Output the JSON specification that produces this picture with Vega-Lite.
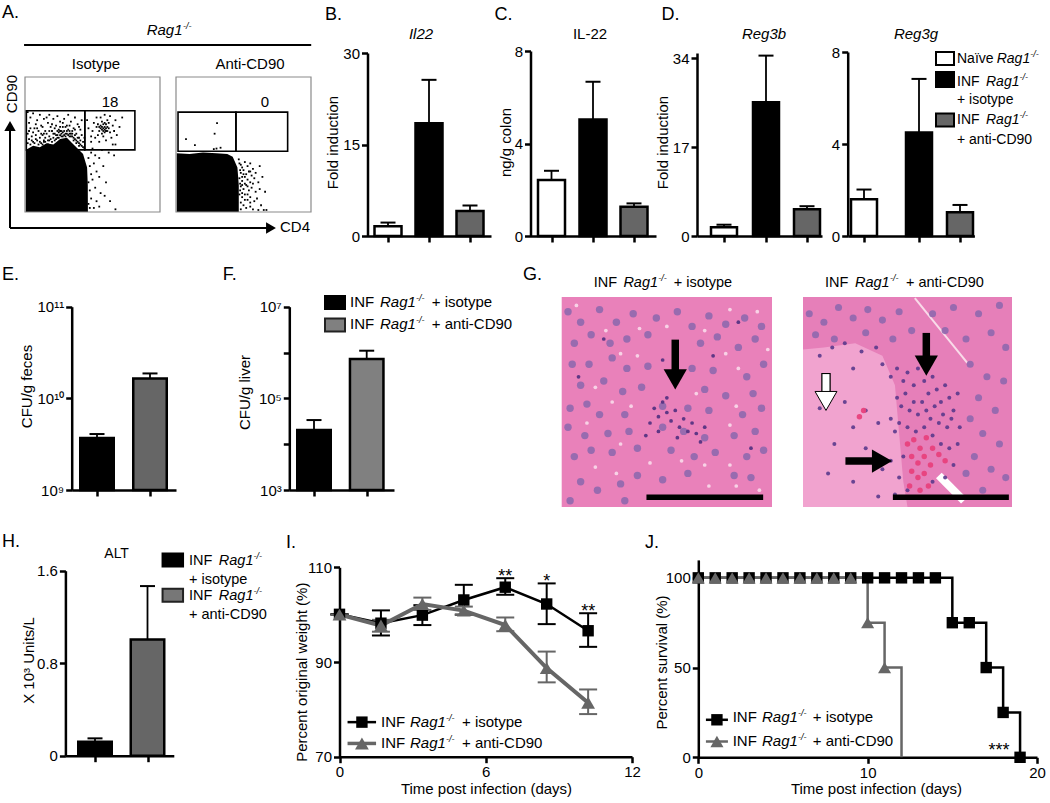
{"$schema":"https://vega.github.io/schema/vega-lite/v6.json","padding":0,"spacing":0,"data":{"values":[{}]},"resolve":{"scale":{"fill":"independent"}},
"config":{"font":"Liberation Sans","view":{"stroke":null},"axis":{"grid":false,"domainColor":"black","domainWidth":2.5,"tickColor":"black","tickWidth":2.5,"tickSize":6,"labelColor":"black","labelFontSize":15,"labelPadding":2,"labelFlush":false,"labelOverlap":false,"titleColor":"black","titleFontSize":15,"titleFontWeight":"normal","titleBaseline":"bottom"},"text":{"color":"black","fontSize":15,"baseline":"alphabetic"}},
"vconcat":[
{"hconcat":[
{"width":168,"height":255,"layer":[
{"data":{"values":[{"x":0.5,"y":46},{"x":6,"y":49},{"x":11,"y":48},{"x":16,"y":51},{"x":21,"y":50},{"x":26,"y":54},{"x":31,"y":55},{"x":35,"y":51},{"x":38,"y":48},{"x":43,"y":43},{"x":46,"y":33},{"x":46.5,"y":20},{"x":46.6,"y":0}]},"mark":{"type":"area","color":"black"},"encoding":{"x":{"field":"x","type":"quantitative","scale":{"domain":[0,100],"range":[25,160]},"axis":null},"y":{"field":"y","type":"quantitative","scale":{"domain":[0,100],"range":[212,77]},"axis":null},"y2":{"datum":0}}},
{"data":{"values":[{"x":2,"y":74},{"x":4,"y":70},{"x":6,"y":73},{"x":3,"y":66},{"x":7,"y":62},{"x":9,"y":68},{"x":11,"y":72},{"x":12,"y":64},{"x":14,"y":69},{"x":15,"y":60},{"x":17,"y":66},{"x":18,"y":72},{"x":19,"y":63},{"x":21,"y":69},{"x":22,"y":58},{"x":23,"y":64},{"x":24,"y":71},{"x":25,"y":61},{"x":26,"y":67},{"x":27,"y":56},{"x":28,"y":63},{"x":29,"y":69},{"x":30,"y":58},{"x":31,"y":64},{"x":32,"y":72},{"x":33,"y":60},{"x":34,"y":67},{"x":35,"y":56},{"x":36,"y":62},{"x":37,"y":70},{"x":38,"y":58},{"x":39,"y":65},{"x":40,"y":55},{"x":41,"y":61},{"x":42,"y":68},{"x":43,"y":52},{"x":42,"y":57},{"x":2,"y":58},{"x":3,"y":54},{"x":5,"y":56},{"x":6,"y":52},{"x":8,"y":57},{"x":9,"y":53},{"x":10,"y":60},{"x":11,"y":55},{"x":12,"y":51},{"x":13,"y":57},{"x":14,"y":53},{"x":15,"y":55},{"x":16,"y":58},{"x":17,"y":53},{"x":18,"y":56},{"x":19,"y":54},{"x":20,"y":60},{"x":21,"y":55},{"x":22,"y":53},{"x":23,"y":57},{"x":24,"y":55},{"x":25,"y":59},{"x":26,"y":57},{"x":27,"y":60},{"x":28,"y":56},{"x":29,"y":60},{"x":30,"y":63},{"x":31,"y":58},{"x":32,"y":61},{"x":33,"y":56},{"x":34,"y":58},{"x":35,"y":60},{"x":36,"y":55},{"x":37,"y":57},{"x":38,"y":53},{"x":39,"y":55},{"x":40,"y":51},{"x":41,"y":53},{"x":42,"y":49},{"x":44,"y":47},{"x":44,"y":55},{"x":4,"y":62},{"x":8,"y":65},{"x":13,"y":63},{"x":16,"y":70},{"x":20,"y":65},{"x":24,"y":60},{"x":28,"y":66},{"x":33,"y":64},{"x":37,"y":61},{"x":40,"y":63},
{"x":2,"y":51},{"x":4,"y":50},{"x":5,"y":53},{"x":7,"y":51},{"x":8,"y":54},{"x":10,"y":50},{"x":11,"y":52},{"x":13,"y":50},{"x":14,"y":52},{"x":15,"y":52},{"x":17,"y":50},{"x":18,"y":53},{"x":20,"y":52},{"x":21,"y":58},{"x":23,"y":54},{"x":24,"y":57},{"x":25,"y":55},{"x":26,"y":60},{"x":27,"y":58},{"x":28,"y":59},{"x":29,"y":57},{"x":30,"y":56},{"x":31,"y":60},{"x":32,"y":57},{"x":33,"y":58},{"x":34,"y":56},{"x":35,"y":58},{"x":36,"y":53},{"x":37,"y":54},{"x":38,"y":51},{"x":39,"y":52},{"x":40,"y":49},{"x":41,"y":50},{"x":43,"y":48},{"x":3,"y":60},{"x":6,"y":59},{"x":9,"y":62},{"x":12,"y":58},{"x":14,"y":58},{"x":18,"y":60},{"x":22,"y":62},{"x":26,"y":63},
{"x":58,"y":62},{"x":56,"y":64},{"x":60,"y":65},{"x":55,"y":60},{"x":59,"y":59},{"x":62,"y":62},{"x":57,"y":67},{"x":53,"y":63},{"x":61,"y":68},{"x":63,"y":59},{"x":54,"y":57},{"x":58,"y":56},{"x":51,"y":66},{"x":50,"y":60},{"x":65,"y":64},{"x":66,"y":60},{"x":52,"y":55},{"x":60,"y":53},{"x":56,"y":70},{"x":63,"y":71},{"x":67,"y":68},{"x":49,"y":56},{"x":47,"y":62},{"x":55,"y":52},{"x":64,"y":55},{"x":68,"y":57},{"x":59,"y":72},{"x":70,"y":63},{"x":46,"y":68},{"x":53,"y":70},{"x":57,"y":61},{"x":59,"y":63},{"x":61,"y":60},{"x":56,"y":62},{"x":58,"y":65},{"x":60,"y":62},{"x":54,"y":65},{"x":62,"y":66},{"x":57,"y":58},{"x":49,"y":52},{"x":65,"y":50},{"x":72,"y":70},{"x":67,"y":50},{"x":59,"y":61},{"x":57,"y":63},{"x":60,"y":60},{"x":58,"y":60},{"x":61,"y":63},{"x":55,"y":63},{"x":59,"y":66},
{"x":47,"y":40},{"x":49,"y":44},{"x":52,"y":42},{"x":55,"y":40},{"x":48,"y":34},{"x":51,"y":36},{"x":49,"y":28},{"x":53,"y":30},{"x":47,"y":22},{"x":50,"y":24},{"x":55,"y":26},{"x":48,"y":16},{"x":52,"y":18},{"x":56,"y":14},{"x":49,"y":10},{"x":53,"y":8},{"x":47,"y":6},{"x":58,"y":34},{"x":60,"y":22},{"x":62,"y":44},{"x":66,"y":42},{"x":59,"y":12},{"x":63,"y":8},{"x":48,"y":3},{"x":51,"y":3},{"x":55,"y":4},{"x":67,"y":2},{"x":50,"y":47},{"x":57,"y":46}]},"mark":{"type":"square","size":3.2,"color":"black","opacity":1},"encoding":{"x":{"field":"x","type":"quantitative"},"y":{"field":"y","type":"quantitative"}}},
{"mark":{"type":"rect","fillOpacity":0,"stroke":"#8a8a8a","strokeWidth":1.2},"encoding":{"x":{"datum":0},"x2":{"datum":100},"y":{"datum":0},"y2":{"datum":100}}},
{"mark":{"type":"rect","fillOpacity":0,"stroke":"black","strokeWidth":1.6},"encoding":{"x":{"datum":1},"x2":{"datum":44.3},"y":{"datum":46},"y2":{"datum":75}}},
{"mark":{"type":"rect","fillOpacity":0,"stroke":"black","strokeWidth":1.6},"encoding":{"x":{"datum":44.3},"x2":{"datum":81.4},"y":{"datum":46},"y2":{"datum":75}}},
{"mark":{"type":"rule","stroke":"black","strokeWidth":2},"encoding":{"x":{"datum":-0.7},"x2":{"datum":212},"y":{"datum":123.7}}},
{"mark":{"type":"rule","stroke":"black","strokeWidth":2},"encoding":{"x":{"datum":-11.1},"y":{"datum":-11.85},"y2":{"datum":64}}},
{"mark":{"type":"rule","stroke":"black","strokeWidth":2},"encoding":{"x":{"datum":-11.1},"x2":{"datum":182},"y":{"datum":-11.85}}},
{"mark":{"type":"point","shape":"triangle-up","filled":true,"size":130,"color":"black","opacity":1},"encoding":{"x":{"datum":-11.1},"y":{"datum":63.7}}},
{"mark":{"type":"point","shape":"triangle-right","filled":true,"size":130,"color":"black","opacity":1},"encoding":{"x":{"datum":182.2},"y":{"datum":-11.85}}},
{"mark":{"type":"text","text":"A.","align":"left","dx":-23,"dy":-194,"fontSize":18},"encoding":{"x":{"datum":0},"y":{"datum":0}}},
{"mark":{"type":"text","text":"Rag1","align":"left","dx":121.7,"dy":-177,"fontStyle":"italic"},"encoding":{"x":{"datum":0},"y":{"datum":0}}},
{"mark":{"type":"text","text":"-/-","align":"left","dx":158,"dy":-183,"fontStyle":"italic","fontSize":9},"encoding":{"x":{"datum":0},"y":{"datum":0}}},
{"mark":{"type":"text","text":"Isotype","align":"center","dx":71,"dy":-143},"encoding":{"x":{"datum":0},"y":{"datum":0}}},
{"mark":{"type":"text","text":"18","align":"center","dx":85,"dy":-105},"encoding":{"x":{"datum":0},"y":{"datum":0}}},
{"mark":{"type":"text","text":"CD90","align":"center","angle":270},"encoding":{"x":{"datum":-5.9},"y":{"datum":87.4}}}
]},
{"width":162,"height":255,"layer":[
{"data":{"values":[{"x":0.5,"y":43.5},{"x":10,"y":43},{"x":20,"y":44},{"x":30,"y":43.5},{"x":38,"y":43},{"x":42,"y":41},{"x":45.5,"y":33},{"x":46.5,"y":20},{"x":46.5,"y":0}]},"mark":{"type":"area","color":"black"},"encoding":{"x":{"field":"x","type":"quantitative","scale":{"domain":[0,100],"range":[8,143]},"axis":null},"y":{"field":"y","type":"quantitative","scale":{"domain":[0,100],"range":[212,77]},"axis":null},"y2":{"datum":0}}},
{"data":{"values":[{"x":30.4,"y":65.8},{"x":28.6,"y":58},{"x":7.4,"y":54},{"x":14,"y":49.6},{"x":30,"y":47},{"x":33,"y":47.6},{"x":28,"y":46.6},{"x":47,"y":36},{"x":49,"y":33},{"x":51,"y":37},{"x":53,"y":34},{"x":55,"y":36},{"x":48,"y":29},{"x":50,"y":31},{"x":52,"y":28},{"x":54,"y":30},{"x":57,"y":32},{"x":59,"y":29},{"x":62,"y":34},{"x":47,"y":25},{"x":49,"y":23},{"x":51,"y":26},{"x":53,"y":24},{"x":55,"y":22},{"x":58,"y":25},{"x":61,"y":22},{"x":64,"y":26},{"x":48,"y":19},{"x":50,"y":17},{"x":52,"y":20},{"x":54,"y":16},{"x":56,"y":18},{"x":59,"y":15},{"x":62,"y":17},{"x":66,"y":15},{"x":47,"y":13},{"x":49,"y":11},{"x":51,"y":13},{"x":53,"y":9},{"x":55,"y":11},{"x":58,"y":8},{"x":60,"y":10},{"x":63,"y":5},{"x":48,"y":7},{"x":50,"y":5},{"x":52,"y":3},{"x":55,"y":4},{"x":57,"y":2},{"x":65,"y":1.5},{"x":67,"y":1.5},{"x":61,"y":1.5},{"x":48,"y":2},{"x":56,"y":27},{"x":51,"y":21},{"x":46.5,"y":39},{"x":48,"y":35},{"x":50,"y":28},{"x":47.5,"y":31},{"x":49,"y":26},{"x":47.5,"y":21},{"x":49,"y":20},{"x":47.5,"y":16},{"x":49,"y":14},{"x":51,"y":9},{"x":53,"y":19},{"x":55,"y":30},{"x":57,"y":21},{"x":53,"y":13},{"x":55,"y":7}]},"mark":{"type":"square","size":3.2,"color":"black","opacity":1},"encoding":{"x":{"field":"x","type":"quantitative"},"y":{"field":"y","type":"quantitative"}}},
{"mark":{"type":"rect","fillOpacity":0,"stroke":"#8a8a8a","strokeWidth":1.2},"encoding":{"x":{"datum":0},"x2":{"datum":100},"y":{"datum":0},"y2":{"datum":100}}},
{"mark":{"type":"rect","fillOpacity":0,"stroke":"black","strokeWidth":1.6},"encoding":{"x":{"datum":1.5},"x2":{"datum":44.4},"y":{"datum":45},"y2":{"datum":74}}},
{"mark":{"type":"rect","fillOpacity":0,"stroke":"black","strokeWidth":1.6},"encoding":{"x":{"datum":44.4},"x2":{"datum":82.7},"y":{"datum":45},"y2":{"datum":74}}},
{"mark":{"type":"text","text":"Anti-CD90","align":"center","dx":74,"dy":-143},"encoding":{"x":{"datum":0},"y":{"datum":0}}},
{"mark":{"type":"text","text":"0","align":"center","dx":89,"dy":-105},"encoding":{"x":{"datum":0},"y":{"datum":0}}},
{"mark":{"type":"text","text":"CD4","align":"left","dx":104,"dy":20},"encoding":{"x":{"datum":0},"y":{"datum":0}}}
]},
{"width":180,"height":255,"layer":[
{"data":{"values":[{"group":"Naïve Rag1-/-","idx":1,"mean":1.6,"top":2.2},{"group":"INF Rag1-/- + isotype","idx":2,"mean":18.5,"top":25.6},{"group":"INF Rag1-/- + anti-CD90","idx":3,"mean":4.1,"top":5}]},"layer":[
{"mark":{"type":"rule","stroke":"black","strokeWidth":1.8},"encoding":{"x":{"field":"idx","type":"quantitative","scale":{"domain":[0,1,2,3,4],"range":[37.5,58,99,140,161],"padding":0},"axis":{"values":[1,2,3],"labels":false,"title":null,"offset":-19}},"y":{"field":"mean","type":"quantitative","scale":{"domain":[0,30],"range":[236,53]},"axis":{"values":[0,15,30],"title":"Fold induction","titleX":-27.5,"titleY":142,"offset":-37.5}},"y2":{"field":"top"}}},
{"mark":{"type":"tick","orient":"horizontal","size":15,"thickness":2,"color":"black","opacity":1},"encoding":{"x":{"field":"idx","type":"quantitative"},"y":{"field":"top","type":"quantitative"}}},
{"mark":{"type":"bar","orient":"vertical","size":27,"stroke":"black","strokeWidth":2.5},"encoding":{"x":{"field":"idx","type":"quantitative"},"y":{"field":"mean","type":"quantitative"},"fill":{"field":"group","scale":{"domain":["Naïve Rag1-/-","INF Rag1-/- + isotype","INF Rag1-/- + anti-CD90"],"range":["white","black","#666666"]},"legend":null}}}]},
{"mark":{"type":"text","text":"B.","align":"left","dx":-42.5,"dy":-216,"fontSize":18},"encoding":{"x":{"datum":0},"y":{"datum":0}}},
{"mark":{"type":"text","text":"Il22","align":"center","dx":53.5,"dy":-197,"fontStyle":"italic"},"encoding":{"x":{"datum":0},"y":{"datum":0}}}
]},
{"width":170,"height":255,"layer":[
{"data":{"values":[{"group":"Naïve Rag1-/-","idx":1,"mean":2.42,"top":2.82},{"group":"INF Rag1-/- + isotype","idx":2,"mean":5.04,"top":6.67},{"group":"INF Rag1-/- + anti-CD90","idx":3,"mean":1.27,"top":1.41}]},"layer":[
{"mark":{"type":"rule","stroke":"black","strokeWidth":1.8},"encoding":{"x":{"field":"idx","type":"quantitative","scale":{"domain":[0,1,2,3,4],"range":[20.5,41.5,83,124,146],"padding":0},"axis":{"values":[1,2,3],"labels":false,"title":null,"offset":-19}},"y":{"field":"mean","type":"quantitative","scale":{"domain":[0,8],"range":[236,51]},"axis":{"values":[0,4,8],"title":"ng/g colon","titleX":-17.5,"titleY":142,"offset":-20.5}},"y2":{"field":"top"}}},
{"mark":{"type":"tick","orient":"horizontal","size":15,"thickness":2,"color":"black","opacity":1},"encoding":{"x":{"field":"idx","type":"quantitative"},"y":{"field":"top","type":"quantitative"}}},
{"mark":{"type":"bar","orient":"vertical","size":27,"stroke":"black","strokeWidth":2.5},"encoding":{"x":{"field":"idx","type":"quantitative"},"y":{"field":"mean","type":"quantitative"},"fill":{"field":"group","scale":{"domain":["Naïve Rag1-/-","INF Rag1-/- + isotype","INF Rag1-/- + anti-CD90"],"range":["white","black","#666666"]},"legend":null}}}]},
{"mark":{"type":"text","text":"C.","align":"left","dx":-35.9,"dy":-216,"fontSize":18},"encoding":{"x":{"datum":0},"y":{"datum":0}}},
{"mark":{"type":"text","text":"IL-22","align":"center","dx":59.5,"dy":-197},"encoding":{"x":{"datum":0},"y":{"datum":0}}}
]},
{"width":150,"height":255,"layer":[
{"data":{"values":[{"group":"Naïve Rag1-/-","idx":1,"mean":1.66,"top":2.16},{"group":"INF Rag1-/- + isotype","idx":2,"mean":25.6,"top":34.5},{"group":"INF Rag1-/- + anti-CD90","idx":3,"mean":5.1,"top":5.7}]},"layer":[
{"mark":{"type":"rule","stroke":"black","strokeWidth":1.8},"encoding":{"x":{"field":"idx","type":"quantitative","scale":{"domain":[0,1,2,3,4],"range":[17,44,86,127,142],"padding":0},"axis":{"values":[1,2,3],"labels":false,"title":null,"offset":-19}},"y":{"field":"mean","type":"quantitative","scale":{"domain":[0,34],"range":[236,53]},"axis":{"values":[0,17,34],"title":"Fold induction","titleX":-27,"titleY":142,"offset":-17}},"y2":{"field":"top"}}},
{"mark":{"type":"tick","orient":"horizontal","size":15,"thickness":2,"color":"black","opacity":1},"encoding":{"x":{"field":"idx","type":"quantitative"},"y":{"field":"top","type":"quantitative"}}},
{"mark":{"type":"bar","orient":"vertical","size":26,"stroke":"black","strokeWidth":2.5},"encoding":{"x":{"field":"idx","type":"quantitative"},"y":{"field":"mean","type":"quantitative"},"fill":{"field":"group","scale":{"domain":["Naïve Rag1-/-","INF Rag1-/- + isotype","INF Rag1-/- + anti-CD90"],"range":["white","black","#666666"]},"legend":null}}}]},
{"mark":{"type":"text","text":"D.","align":"left","dx":-35.6,"dy":-216,"fontSize":18},"encoding":{"x":{"datum":0},"y":{"datum":0}}},
{"mark":{"type":"text","text":"Reg3b","align":"center","dx":67,"dy":-197,"fontStyle":"italic"},"encoding":{"x":{"datum":0},"y":{"datum":0}}}
]},
{"width":220,"height":255,"layer":[
{"data":{"values":[{"group":"Naïve Rag1-/-","idx":1,"mean":1.6,"top":2.02},{"group":"INF Rag1-/- + isotype","idx":2,"mean":4.5,"top":6.83},{"group":"INF Rag1-/- + anti-CD90","idx":3,"mean":1.03,"top":1.35}]},"layer":[
{"mark":{"type":"rule","stroke":"black","strokeWidth":1.8},"encoding":{"x":{"field":"idx","type":"quantitative","scale":{"domain":[0,1,2,3,4],"range":[17.7,34,89,130,144.4],"padding":0},"axis":{"values":[1,2,3],"labels":false,"title":null,"offset":-19}},"y":{"field":"mean","type":"quantitative","scale":{"domain":[0,8],"range":[236,52]},"axis":{"values":[0,4,8],"title":null,"offset":-17.7}},"y2":{"field":"top"}}},
{"mark":{"type":"tick","orient":"horizontal","size":15,"thickness":2,"color":"black","opacity":1},"encoding":{"x":{"field":"idx","type":"quantitative"},"y":{"field":"top","type":"quantitative"}}},
{"mark":{"type":"bar","orient":"vertical","size":26,"stroke":"black","strokeWidth":2.5},"encoding":{"x":{"field":"idx","type":"quantitative"},"y":{"field":"mean","type":"quantitative"},"fill":{"field":"group","scale":{"domain":["Naïve Rag1-/-","INF Rag1-/- + isotype","INF Rag1-/- + anti-CD90"],"range":["white","black","#666666"]},"legend":null}}}]},
{"mark":{"type":"text","text":"Reg3g","align":"center","dx":68.3,"dy":-197,"fontStyle":"italic"},"encoding":{"x":{"datum":0},"y":{"datum":0}}},
{"mark":{"type":"rect","width":18,"height":13,"xOffset":97.3,"yOffset":-177.5,"fill":"white","stroke":"black","strokeWidth":2},"encoding":{"x":{"datum":0},"y":{"datum":0}}},
{"mark":{"type":"rect","width":18,"height":15,"xOffset":97.3,"yOffset":-156.5,"fill":"black","stroke":"black","strokeWidth":2},"encoding":{"x":{"datum":0},"y":{"datum":0}}},
{"mark":{"type":"rect","width":18,"height":13,"xOffset":97.3,"yOffset":-116,"fill":"#666666","stroke":"black","strokeWidth":2},"encoding":{"x":{"datum":0},"y":{"datum":0}}},
{"mark":{"type":"text","text":"Naïve","align":"left","dx":109.3,"dy":-173,"fontSize":14},"encoding":{"x":{"datum":0},"y":{"datum":0}}},
{"mark":{"type":"text","text":"Rag1","align":"left","dx":149,"dy":-173,"fontSize":14,"fontStyle":"italic"},"encoding":{"x":{"datum":0},"y":{"datum":0}}},
{"mark":{"type":"text","text":"-/-","align":"left","dx":182.5,"dy":-179,"fontSize":9,"fontStyle":"italic"},"encoding":{"x":{"datum":0},"y":{"datum":0}}},
{"mark":{"type":"text","text":"INF","align":"left","dx":109.3,"dy":-150,"fontSize":14},"encoding":{"x":{"datum":0},"y":{"datum":0}}},
{"mark":{"type":"text","text":"Rag1","align":"left","dx":138.3,"dy":-150,"fontSize":14,"fontStyle":"italic"},"encoding":{"x":{"datum":0},"y":{"datum":0}}},
{"mark":{"type":"text","text":"-/-","align":"left","dx":171.8,"dy":-156,"fontSize":9,"fontStyle":"italic"},"encoding":{"x":{"datum":0},"y":{"datum":0}}},
{"mark":{"type":"text","text":"+ isotype","align":"left","dx":109.3,"dy":-132,"fontSize":14},"encoding":{"x":{"datum":0},"y":{"datum":0}}},
{"mark":{"type":"text","text":"INF","align":"left","dx":109.3,"dy":-112,"fontSize":14},"encoding":{"x":{"datum":0},"y":{"datum":0}}},
{"mark":{"type":"text","text":"Rag1","align":"left","dx":138.3,"dy":-112,"fontSize":14,"fontStyle":"italic"},"encoding":{"x":{"datum":0},"y":{"datum":0}}},
{"mark":{"type":"text","text":"-/-","align":"left","dx":171.8,"dy":-118,"fontSize":9,"fontStyle":"italic"},"encoding":{"x":{"datum":0},"y":{"datum":0}}},
{"mark":{"type":"text","text":"+ anti-CD90","align":"left","dx":109.3,"dy":-92,"fontSize":14},"encoding":{"x":{"datum":0},"y":{"datum":0}}}
]}
],"spacing":0,"bounds":"flush","resolve":{"scale":{"fill":"independent"}}},
{"hconcat":[
{"width":200,"height":270,"layer":[
{"data":{"values":[{"group":"INF Rag1-/- + isotype","idx":1,"mean":3700000000,"top":4080000000},{"group":"INF Rag1-/- + anti-CD90","idx":2,"mean":16500000000,"top":18700000000}]},"layer":[
{"mark":{"type":"rule","stroke":"black","strokeWidth":1.8},"encoding":{"x":{"field":"idx","type":"quantitative","scale":{"domain":[0,1,2,3],"range":[71.7,97,150,176],"padding":0},"axis":{"values":[1,2],"labels":false,"title":null,"offset":-35}},"y":{"field":"mean","type":"quantitative","scale":{"type":"log","domain":[1000000000,100000000000],"range":[235,51.7]},"axis":{"values":[1000000000,10000000000,100000000000],"labelExpr":"datum.value>=1e11?'10¹¹':datum.value>=1e10?'10¹⁰':'10⁹'","title":"CFU/g feces","titleX":-36.7,"titleY":131,"offset":-71.7}},"y2":{"field":"top"}}},
{"mark":{"type":"tick","orient":"horizontal","size":15,"thickness":2,"color":"black","opacity":1},"encoding":{"x":{"field":"idx","type":"quantitative"},"y":{"field":"top","type":"quantitative"}}},
{"mark":{"type":"bar","orient":"vertical","size":33.5,"stroke":"black","strokeWidth":2.5},"encoding":{"x":{"field":"idx","type":"quantitative"},"y":{"field":"mean","type":"quantitative"},"y2":{"datum":1000000000},"fill":{"field":"group","scale":{"domain":["INF Rag1-/- + isotype","INF Rag1-/- + anti-CD90"],"range":["black","#666666"]},"legend":null}}}]},
{"mark":{"type":"text","text":"E.","align":"left","dx":-69.7,"dy":-210,"fontSize":18},"encoding":{"x":{"datum":0},"y":{"datum":1000000000}}}
]},
{"width":340,"height":270,"layer":[
{"data":{"values":[{"group":"INF Rag1-/- + isotype","idx":1,"mean":20400,"top":33600},{"group":"INF Rag1-/- + anti-CD90","idx":2,"mean":721000,"top":1096000}]},"layer":[
{"mark":{"type":"rule","stroke":"black","strokeWidth":1.8},"encoding":{"x":{"field":"idx","type":"quantitative","scale":{"domain":[0,1,2,3],"range":[89.3,114,166.7,194],"padding":0},"axis":{"values":[1,2],"labels":false,"title":null,"offset":-35}},"y":{"field":"mean","type":"quantitative","scale":{"type":"log","domain":[1000,10000000],"range":[235,51.7]},"axis":{"values":[1000,10000,100000,1000000,10000000],"labelExpr":"datum.value==1000?'10³':datum.value==100000?'10⁵':datum.value==10000000?'10⁷':''","title":"CFU/g liver","titleX":-37,"titleY":137,"offset":-89.3}},"y2":{"field":"top"}}},
{"mark":{"type":"tick","orient":"horizontal","size":15,"thickness":2,"color":"black","opacity":1},"encoding":{"x":{"field":"idx","type":"quantitative"},"y":{"field":"top","type":"quantitative"}}},
{"mark":{"type":"bar","orient":"vertical","size":33.5,"stroke":"black","strokeWidth":2.5},"encoding":{"x":{"field":"idx","type":"quantitative"},"y":{"field":"mean","type":"quantitative"},"y2":{"datum":1000},"fill":{"field":"group","scale":{"domain":["INF Rag1-/- + isotype","INF Rag1-/- + anti-CD90"],"range":["black","#808080"]},"legend":null}}}]},
{"mark":{"type":"text","text":"F.","align":"left","dx":-66.6,"dy":-210,"fontSize":18},"encoding":{"x":{"datum":0},"y":{"datum":1000}}},
{"mark":{"type":"rect","width":20,"height":13,"xOffset":45.7,"yOffset":-187.5,"fill":"black","stroke":"black","strokeWidth":2},"encoding":{"x":{"datum":0},"y":{"datum":1000}}},
{"mark":{"type":"rect","width":20,"height":13,"xOffset":45.7,"yOffset":-165,"fill":"#808080","stroke":"#222","strokeWidth":2},"encoding":{"x":{"datum":0},"y":{"datum":1000}}},
{"mark":{"type":"text","text":"INF","align":"left","dx":60.7,"dy":-183.3},"encoding":{"x":{"datum":0},"y":{"datum":1000}}},
{"mark":{"type":"text","text":"Rag1","align":"left","dx":90.7,"dy":-183.3,"fontStyle":"italic"},"encoding":{"x":{"datum":0},"y":{"datum":1000}}},
{"mark":{"type":"text","text":"-/-","align":"left","dx":126.6,"dy":-189.3,"fontSize":9,"fontStyle":"italic"},"encoding":{"x":{"datum":0},"y":{"datum":1000}}},
{"mark":{"type":"text","text":"+ isotype","align":"left","dx":142.4,"dy":-183.3},"encoding":{"x":{"datum":0},"y":{"datum":1000}}},
{"mark":{"type":"text","text":"INF","align":"left","dx":60.7,"dy":-161},"encoding":{"x":{"datum":0},"y":{"datum":1000}}},
{"mark":{"type":"text","text":"Rag1","align":"left","dx":90.7,"dy":-161,"fontStyle":"italic"},"encoding":{"x":{"datum":0},"y":{"datum":1000}}},
{"mark":{"type":"text","text":"-/-","align":"left","dx":126.6,"dy":-167,"fontSize":9,"fontStyle":"italic"},"encoding":{"x":{"datum":0},"y":{"datum":1000}}},
{"mark":{"type":"text","text":"+ anti-CD90","align":"left","dx":142.4,"dy":-161},"encoding":{"x":{"datum":0},"y":{"datum":1000}}}
]},
{"width":250,"height":270,"layer":[
{"mark":{"type":"rect","fill":"#e981ba"},"encoding":{"x":{"datum":0,"scale":{"domain":[0,100],"range":[21.7,232]},"axis":null},"x2":{"datum":100},"y":{"datum":0,"scale":{"domain":[0,100],"range":[252,42]},"axis":null},"y2":{"datum":100}}},
{"data":{"values":[{"x":7,"y":96},{"x":21,"y":84},{"x":37,"y":85},{"x":50,"y":86},{"x":68,"y":84},{"x":80,"y":94},{"x":93,"y":93},{"x":98,"y":75},{"x":28,"y":73},{"x":36,"y":72},{"x":78,"y":73},{"x":84,"y":66},{"x":16,"y":57},{"x":24,"y":50},{"x":33,"y":48},{"x":64,"y":54},{"x":83,"y":48},{"x":80,"y":39},{"x":28,"y":30},{"x":16,"y":19},{"x":42,"y":21},{"x":57,"y":22},{"x":68,"y":20},{"x":80,"y":20},{"x":83,"y":10},{"x":94,"y":8},{"x":70,"y":10},{"x":12,"y":40},{"x":26,"y":16}]},"mark":{"type":"circle","size":14,"color":"#f9d6e8","opacity":0.95},"encoding":{"x":{"field":"x","type":"quantitative"},"y":{"field":"y","type":"quantitative"}}},
{"data":{"values":[{"x":3,"y":93},{"x":9,"y":88},{"x":18,"y":94},{"x":26,"y":88},{"x":34,"y":92},{"x":45,"y":90},{"x":55,"y":93},{"x":62,"y":86},{"x":70,"y":91},{"x":78,"y":87},{"x":87,"y":90},{"x":95,"y":86},{"x":6,"y":78},{"x":14,"y":82},{"x":23,"y":78},{"x":31,"y":80},{"x":41,"y":82},{"x":66,"y":78},{"x":74,"y":81},{"x":84,"y":76},{"x":92,"y":80},{"x":5,"y":68},{"x":13,"y":68},{"x":24,"y":71},{"x":31,"y":66},{"x":41,"y":67},{"x":62,"y":66},{"x":72,"y":65},{"x":88,"y":62},{"x":96,"y":68},{"x":9,"y":58},{"x":20,"y":60},{"x":29,"y":55},{"x":38,"y":57},{"x":68,"y":56},{"x":78,"y":53},{"x":91,"y":54},{"x":4,"y":47},{"x":12,"y":49},{"x":18,"y":44},{"x":30,"y":44},{"x":48,"y":48},{"x":60,"y":47},{"x":70,"y":46},{"x":86,"y":44},{"x":95,"y":47},{"x":3,"y":38},{"x":11,"y":34},{"x":22,"y":35},{"x":32,"y":36},{"x":48,"y":38},{"x":58,"y":36},{"x":68,"y":33},{"x":82,"y":34},{"x":92,"y":36},{"x":6,"y":24},{"x":14,"y":27},{"x":24,"y":26},{"x":36,"y":28},{"x":52,"y":27},{"x":63,"y":24},{"x":73,"y":26},{"x":88,"y":24},{"x":96,"y":27},{"x":9,"y":12},{"x":17,"y":8},{"x":28,"y":11},{"x":36,"y":15},{"x":48,"y":13},{"x":60,"y":16},{"x":4,"y":3},{"x":30,"y":3},{"x":90,"y":14},{"x":82,"y":15}]},"mark":{"type":"circle","size":55,"color":"#8f68ae","opacity":0.9},"encoding":{"x":{"field":"x","type":"quantitative"},"y":{"field":"y","type":"quantitative"}}},
{"data":{"values":[{"x":44,"y":47},{"x":46,"y":43},{"x":48,"y":50},{"x":50,"y":45},{"x":52,"y":41},{"x":54,"y":46},{"x":56,"y":38},{"x":58,"y":42},{"x":60,"y":36},{"x":62,"y":40},{"x":64,"y":35},{"x":42,"y":40},{"x":46,"y":36},{"x":55,"y":33},{"x":68,"y":38},{"x":40,"y":34},{"x":66,"y":31},{"x":50,"y":52},{"x":20,"y":80},{"x":8,"y":62},{"x":48,"y":70},{"x":72,"y":72},{"x":84,"y":88},{"x":90,"y":28}]},"mark":{"type":"circle","size":14,"color":"#4f2f7f","opacity":0.9},"encoding":{"x":{"field":"x","type":"quantitative"},"y":{"field":"y","type":"quantitative"}}},
{"mark":{"type":"rule","stroke":"black","strokeWidth":7.5},"encoding":{"x":{"datum":54},"y":{"datum":79.7},"y2":{"datum":62}}},
{"mark":{"type":"point","shape":"triangle-down","filled":true,"size":540,"color":"black","opacity":1},"encoding":{"x":{"datum":54},"y":{"datum":60.8}}},
{"mark":{"type":"rule","stroke":"black","strokeWidth":5.5},"encoding":{"x":{"datum":40.3},"x2":{"datum":95.8},"y":{"datum":4.6}}},
{"mark":{"type":"text","text":"G.","align":"left","dx":-38.7,"dy":-227,"fontSize":18},"encoding":{"x":{"datum":0},"y":{"datum":0}}},
{"mark":{"type":"text","text":"INF","align":"left","dx":32,"dy":-220,"fontSize":14.5},"encoding":{"x":{"datum":0},"y":{"datum":0}}},
{"mark":{"type":"text","text":"Rag1","align":"left","dx":61.7,"dy":-220,"fontSize":14.5,"fontStyle":"italic"},"encoding":{"x":{"datum":0},"y":{"datum":0}}},
{"mark":{"type":"text","text":"-/-","align":"left","dx":96.5,"dy":-226,"fontSize":9,"fontStyle":"italic"},"encoding":{"x":{"datum":0},"y":{"datum":0}}},
{"mark":{"type":"text","text":"+ isotype","align":"left","dx":112,"dy":-220,"fontSize":14.5},"encoding":{"x":{"datum":0},"y":{"datum":0}}}
]},
{"width":260,"height":270,"layer":[
{"mark":{"type":"rect","fill":"#e67fb9"},"encoding":{"x":{"datum":0,"scale":{"domain":[0,100],"range":[13,222]},"axis":null},"x2":{"datum":100},"y":{"datum":0,"scale":{"domain":[0,100],"range":[252,42]},"axis":null},"y2":{"datum":100}}},
{"data":{"values":[{"x":0,"y":75},{"x":10,"y":76},{"x":25,"y":78},{"x":38,"y":72},{"x":44,"y":58},{"x":46,"y":35},{"x":48,"y":12},{"x":50,"y":0}]},"mark":{"type":"area","color":"#f1a3cf"},"encoding":{"x":{"field":"x","type":"quantitative"},"y":{"field":"y","type":"quantitative"},"y2":{"datum":0}}},
{"mark":{"type":"rule","stroke":"white","strokeWidth":8},"encoding":{"x":{"datum":65},"x2":{"datum":77},"y":{"datum":15},"y2":{"datum":3}}},
{"mark":{"type":"rule","stroke":"#f9dbe9","strokeWidth":2},"encoding":{"x":{"datum":53.5},"x2":{"datum":78.6},"y":{"datum":99.5},"y2":{"datum":68.6}}},
{"data":{"values":[{"x":3,"y":92},{"x":10,"y":88},{"x":17,"y":95},{"x":24,"y":90},{"x":31,"y":94},{"x":38,"y":89},{"x":46,"y":93},{"x":62,"y":92},{"x":72,"y":95},{"x":84,"y":92},{"x":94,"y":96},{"x":6,"y":82},{"x":15,"y":80},{"x":30,"y":83},{"x":43,"y":80},{"x":52,"y":84},{"x":68,"y":84},{"x":78,"y":80},{"x":90,"y":83},{"x":97,"y":76},{"x":80,"y":68},{"x":88,"y":62},{"x":96,"y":60},{"x":84,"y":52},{"x":92,"y":46},{"x":80,"y":42},{"x":86,"y":35},{"x":94,"y":30},{"x":82,"y":24},{"x":90,"y":18},{"x":97,"y":14},{"x":86,"y":8},{"x":78,"y":16}]},"mark":{"type":"circle","size":50,"color":"#8f68ae","opacity":0.9},"encoding":{"x":{"field":"x","type":"quantitative"},"y":{"field":"y","type":"quantitative"}}},
{"data":{"values":[{"x":8,"y":72},{"x":14,"y":76},{"x":20,"y":78},{"x":28,"y":74},{"x":35,"y":76},{"x":24,"y":66},{"x":38,"y":68},{"x":42,"y":62},{"x":20,"y":50},{"x":8,"y":47},{"x":30,"y":46},{"x":36,"y":40},{"x":24,"y":38},{"x":15,"y":30},{"x":30,"y":28},{"x":38,"y":18},{"x":24,"y":12},{"x":12,"y":16},{"x":45,"y":66},{"x":48,"y":60},{"x":50,"y":64},{"x":53,"y":58},{"x":55,"y":66},{"x":58,"y":60},{"x":60,"y":54},{"x":62,"y":62},{"x":64,"y":56},{"x":66,"y":50},{"x":68,"y":58},{"x":70,"y":52},{"x":72,"y":46},{"x":74,"y":54},{"x":45,"y":52},{"x":47,"y":48},{"x":49,"y":54},{"x":51,"y":46},{"x":53,"y":50},{"x":55,"y":44},{"x":57,"y":50},{"x":59,"y":46},{"x":61,"y":42},{"x":63,"y":48},{"x":65,"y":40},{"x":67,"y":44},{"x":69,"y":38},{"x":71,"y":42},{"x":75,"y":38},{"x":42,"y":42},{"x":44,"y":36},{"x":46,"y":40},{"x":50,"y":38},{"x":54,"y":36},{"x":58,"y":38},{"x":62,"y":34},{"x":66,"y":30},{"x":70,"y":28},{"x":74,"y":30},{"x":42,"y":22},{"x":46,"y":14},{"x":48,"y":24},{"x":50,"y":8},{"x":62,"y":12},{"x":72,"y":20},{"x":68,"y":14},{"x":44,"y":6},{"x":36,"y":5}]},"mark":{"type":"circle","size":16,"color":"#5a3a8c","opacity":0.9},"encoding":{"x":{"field":"x","type":"quantitative"},"y":{"field":"y","type":"quantitative"}}},
{"data":{"values":[{"x":50,"y":30},{"x":53,"y":32},{"x":56,"y":28},{"x":59,"y":33},{"x":62,"y":28},{"x":65,"y":25},{"x":52,"y":24},{"x":55,"y":21},{"x":58,"y":24},{"x":61,"y":20},{"x":52,"y":17},{"x":55,"y":14},{"x":58,"y":16},{"x":60,"y":10},{"x":56,"y":8},{"x":51,"y":10},{"x":27,"y":43},{"x":29,"y":46},{"x":68,"y":22}]},"mark":{"type":"circle","size":30,"color":"#e8417c","opacity":0.95},"encoding":{"x":{"field":"x","type":"quantitative"},"y":{"field":"y","type":"quantitative"}}},
{"mark":{"type":"rule","stroke":"black","strokeWidth":7.5},"encoding":{"x":{"datum":59},"y":{"datum":82.9},"y2":{"datum":68}}},
{"mark":{"type":"point","shape":"triangle-down","filled":true,"size":540,"color":"black","opacity":1},"encoding":{"x":{"datum":59},"y":{"datum":67.3}}},
{"mark":{"type":"rule","stroke":"black","strokeWidth":7.5},"encoding":{"x":{"datum":20.3},"x2":{"datum":36},"y":{"datum":21.9}}},
{"mark":{"type":"point","shape":"triangle-right","filled":true,"size":540,"color":"black","opacity":1},"encoding":{"x":{"datum":37.8},"y":{"datum":21.9}}},
{"mark":{"type":"rule","stroke":"black","strokeWidth":9.5},"encoding":{"x":{"datum":11},"y":{"datum":63.8},"y2":{"datum":53}}},
{"mark":{"type":"rule","stroke":"white","strokeWidth":7},"encoding":{"x":{"datum":11},"y":{"datum":63.3},"y2":{"datum":53}}},
{"mark":{"type":"point","shape":"triangle-down","filled":true,"size":480,"fill":"white","stroke":"black","strokeWidth":1,"opacity":1},"encoding":{"x":{"datum":11},"y":{"datum":50.5}}},
{"mark":{"type":"rule","stroke":"black","strokeWidth":5.5},"encoding":{"x":{"datum":43},"x2":{"datum":98.5},"y":{"datum":4.6}}},
{"mark":{"type":"text","text":"INF","align":"left","dx":22,"dy":-220,"fontSize":14.5},"encoding":{"x":{"datum":0},"y":{"datum":0}}},
{"mark":{"type":"text","text":"Rag1","align":"left","dx":52,"dy":-220,"fontSize":14.5,"fontStyle":"italic"},"encoding":{"x":{"datum":0},"y":{"datum":0}}},
{"mark":{"type":"text","text":"-/-","align":"left","dx":87,"dy":-226,"fontSize":9,"fontStyle":"italic"},"encoding":{"x":{"datum":0},"y":{"datum":0}}},
{"mark":{"type":"text","text":"+ anti-CD90","align":"left","dx":103,"dy":-220,"fontSize":14.5},"encoding":{"x":{"datum":0},"y":{"datum":0}}}
]}
],"spacing":0,"bounds":"flush","resolve":{"scale":{"fill":"independent"}}},
{"hconcat":[
{"width":280,"height":278,"layer":[
{"data":{"values":[{"group":"INF Rag1-/- + isotype","idx":1,"mean":0.121,"top":0.15},{"group":"INF Rag1-/- + anti-CD90","idx":2,"mean":1.006,"top":1.467}]},"layer":[
{"mark":{"type":"rule","stroke":"black","strokeWidth":1.8},"encoding":{"x":{"field":"idx","type":"quantitative","scale":{"domain":[0,1,2,3],"range":[65.4,95,147.5,173.8],"padding":0},"axis":{"values":[1,2],"labels":false,"title":null,"offset":-47.3}},"y":{"field":"mean","type":"quantitative","scale":{"domain":[0,1.6],"range":[230.7,45.7]},"axis":{"values":[0,0.8,1.6],"labelExpr":"datum.value==0?'0':format(datum.value,'.1f')","title":"X 10³ Units/L","titleX":-29.4,"titleY":135,"offset":-65.4}},"y2":{"field":"top"}}},
{"mark":{"type":"tick","orient":"horizontal","size":15,"thickness":2,"color":"black","opacity":1},"encoding":{"x":{"field":"idx","type":"quantitative"},"y":{"field":"top","type":"quantitative"}}},
{"mark":{"type":"bar","orient":"vertical","size":33.5,"stroke":"black","strokeWidth":2.5},"encoding":{"x":{"field":"idx","type":"quantitative"},"y":{"field":"mean","type":"quantitative"},"fill":{"field":"group","scale":{"domain":["INF Rag1-/- + isotype","INF Rag1-/- + anti-CD90"],"range":["black","#666666"]},"legend":null}}}]},
{"mark":{"type":"text","text":"H.","align":"left","dx":-63.4,"dy":-208.7,"fontSize":18},"encoding":{"x":{"datum":0},"y":{"datum":0}}},
{"mark":{"type":"text","text":"ALT","align":"center","dx":51.2,"dy":-197.7,"fontSize":14},"encoding":{"x":{"datum":0},"y":{"datum":0}}},
{"mark":{"type":"rect","width":20.5,"height":13,"xOffset":107.4,"yOffset":-195.7,"fill":"black","stroke":"black","strokeWidth":2},"encoding":{"x":{"datum":0},"y":{"datum":0}}},
{"mark":{"type":"rect","width":20.5,"height":13,"xOffset":107.4,"yOffset":-160.4,"fill":"#777777","stroke":"#222","strokeWidth":2},"encoding":{"x":{"datum":0},"y":{"datum":0}}},
{"mark":{"type":"text","text":"INF","align":"left","dx":123.6,"dy":-190.7,"fontSize":14.5},"encoding":{"x":{"datum":0},"y":{"datum":0}}},
{"mark":{"type":"text","text":"Rag1","align":"left","dx":153.4,"dy":-190.7,"fontSize":14.5,"fontStyle":"italic"},"encoding":{"x":{"datum":0},"y":{"datum":0}}},
{"mark":{"type":"text","text":"-/-","align":"left","dx":188,"dy":-196.7,"fontSize":9,"fontStyle":"italic"},"encoding":{"x":{"datum":0},"y":{"datum":0}}},
{"mark":{"type":"text","text":"+ isotype","align":"left","dx":123.6,"dy":-171.7,"fontSize":14.5},"encoding":{"x":{"datum":0},"y":{"datum":0}}},
{"mark":{"type":"text","text":"INF","align":"left","dx":123.6,"dy":-155.7,"fontSize":14.5},"encoding":{"x":{"datum":0},"y":{"datum":0}}},
{"mark":{"type":"text","text":"Rag1","align":"left","dx":153.4,"dy":-155.7,"fontSize":14.5,"fontStyle":"italic"},"encoding":{"x":{"datum":0},"y":{"datum":0}}},
{"mark":{"type":"text","text":"-/-","align":"left","dx":188,"dy":-161.7,"fontSize":9,"fontStyle":"italic"},"encoding":{"x":{"datum":0},"y":{"datum":0}}},
{"mark":{"type":"text","text":"+ anti-CD90","align":"left","dx":123.6,"dy":-136.7,"fontSize":14.5},"encoding":{"x":{"datum":0},"y":{"datum":0}}}
]},
{"width":360,"height":278,"layer":[
{"data":{"values":[
{"group":"INF Rag1-/- + isotype","day":0,"weight":100.07,"low":100.07,"high":100.07},
{"group":"INF Rag1-/- + isotype","day":1.7,"weight":98.2,"low":95.6,"high":100.9},
{"group":"INF Rag1-/- + isotype","day":3.4,"weight":99.9,"low":97.8,"high":102},
{"group":"INF Rag1-/- + isotype","day":5.1,"weight":103.1,"low":100,"high":106.3},
{"group":"INF Rag1-/- + isotype","day":6.8,"weight":105.8,"low":104.2,"high":107.7},
{"group":"INF Rag1-/- + isotype","day":8.5,"weight":102.25,"low":98,"high":106.6},
{"group":"INF Rag1-/- + isotype","day":10.2,"weight":96.6,"low":93.2,"high":100.3},
{"group":"INF Rag1-/- + anti-CD90","day":0,"weight":100,"low":100,"high":100},
{"group":"INF Rag1-/- + anti-CD90","day":1.7,"weight":97.7,"low":96.4,"high":98.9},
{"group":"INF Rag1-/- + anti-CD90","day":3.4,"weight":102.25,"low":101,"high":103.6},
{"group":"INF Rag1-/- + anti-CD90","day":5.1,"weight":100.85,"low":100,"high":101.7},
{"group":"INF Rag1-/- + anti-CD90","day":6.8,"weight":97.8,"low":96.5,"high":99.4},
{"group":"INF Rag1-/- + anti-CD90","day":8.5,"weight":88.7,"low":85.7,"high":92.2},
{"group":"INF Rag1-/- + anti-CD90","day":10.2,"weight":81.4,"low":79,"high":84.2}]},"layer":[
{"mark":{"type":"rule","strokeWidth":2},"encoding":{"x":{"field":"day","type":"quantitative","scale":{"domain":[0,12],"range":[59.5,352],"padding":0},"axis":{"values":[0,6,12],"title":"Time post infection (days)","titleX":206,"titleY":36.5,"titleBaseline":"alphabetic","offset":-46.3}},"y":{"field":"low","type":"quantitative","scale":{"domain":[70,110],"range":[231.7,42.3]},"axis":{"values":[70,90,110],"title":"Percent original weight (%)","titleX":-30.5,"titleY":146.7,"offset":-59.5}},"y2":{"field":"high"},"color":{"field":"group","scale":{"domain":["INF Rag1-/- + isotype","INF Rag1-/- + anti-CD90"],"range":["black","#666666"]},"legend":null}}},
{"mark":{"type":"tick","orient":"horizontal","size":18,"thickness":2,"opacity":1},"encoding":{"x":{"field":"day","type":"quantitative"},"y":{"field":"high","type":"quantitative"},"color":{"field":"group","legend":null}}},
{"mark":{"type":"tick","orient":"horizontal","size":18,"thickness":2,"opacity":1},"encoding":{"x":{"field":"day","type":"quantitative"},"y":{"field":"low","type":"quantitative"},"color":{"field":"group","legend":null}}},
{"mark":{"type":"line"},"encoding":{"x":{"field":"day","type":"quantitative"},"y":{"field":"weight","type":"quantitative"},"color":{"field":"group","legend":null},"strokeWidth":{"field":"group","scale":{"domain":["INF Rag1-/- + isotype","INF Rag1-/- + anti-CD90"],"range":[2.5,4]},"legend":null}}},
{"mark":{"type":"point","filled":true,"opacity":1},"encoding":{"x":{"field":"day","type":"quantitative"},"y":{"field":"weight","type":"quantitative"},"color":{"field":"group","legend":null},"shape":{"field":"group","scale":{"domain":["INF Rag1-/- + isotype","INF Rag1-/- + anti-CD90"],"range":["square","triangle-up"]},"legend":null},"size":{"field":"group","scale":{"domain":["INF Rag1-/- + isotype","INF Rag1-/- + anti-CD90"],"range":[130,190]},"legend":null}}}]},
{"mark":{"type":"text","text":"**","align":"center","dy":10,"fontSize":18},"encoding":{"x":{"datum":6.8},"y":{"datum":109}}},
{"mark":{"type":"text","text":"*","align":"center","dy":10,"fontSize":18},"encoding":{"x":{"datum":8.5},"y":{"datum":108}}},
{"mark":{"type":"text","text":"**","align":"center","dy":10,"fontSize":18},"encoding":{"x":{"datum":10.2},"y":{"datum":101.6}}},
{"mark":{"type":"text","text":"I.","align":"left","dx":-53.5,"dy":-208.7,"fontSize":18},"encoding":{"x":{"datum":0},"y":{"datum":70}}},
{"mark":{"type":"rule","stroke":"black","strokeWidth":2.5},"encoding":{"x":{"datum":0.33},"x2":{"datum":1.5},"y":{"datum":77.3}}},
{"mark":{"type":"point","shape":"square","filled":true,"size":130,"color":"black","opacity":1},"encoding":{"x":{"datum":0.92},"y":{"datum":77.3}}},
{"mark":{"type":"rule","stroke":"#666666","strokeWidth":3.5},"encoding":{"x":{"datum":0.33},"x2":{"datum":1.5},"y":{"datum":72.8}}},
{"mark":{"type":"point","shape":"triangle-up","filled":true,"size":190,"color":"#666666","opacity":1},"encoding":{"x":{"datum":0.92},"y":{"datum":72.8}}},
{"mark":{"type":"text","text":"INF","align":"left","dx":41.5,"dy":-29.7},"encoding":{"x":{"datum":0},"y":{"datum":70}}},
{"mark":{"type":"text","text":"Rag1","align":"left","dx":70.5,"dy":-29.7,"fontStyle":"italic"},"encoding":{"x":{"datum":0},"y":{"datum":70}}},
{"mark":{"type":"text","text":"-/-","align":"left","dx":106.5,"dy":-35.7,"fontSize":9,"fontStyle":"italic"},"encoding":{"x":{"datum":0},"y":{"datum":70}}},
{"mark":{"type":"text","text":"+ isotype","align":"left","dx":122.5,"dy":-29.7},"encoding":{"x":{"datum":0},"y":{"datum":70}}},
{"mark":{"type":"text","text":"INF","align":"left","dx":41.5,"dy":-8.7},"encoding":{"x":{"datum":0},"y":{"datum":70}}},
{"mark":{"type":"text","text":"Rag1","align":"left","dx":70.5,"dy":-8.7,"fontStyle":"italic"},"encoding":{"x":{"datum":0},"y":{"datum":70}}},
{"mark":{"type":"text","text":"-/-","align":"left","dx":106.5,"dy":-14.7,"fontSize":9,"fontStyle":"italic"},"encoding":{"x":{"datum":0},"y":{"datum":70}}},
{"mark":{"type":"text","text":"+ anti-CD90","align":"left","dx":122.5,"dy":-8.7},"encoding":{"x":{"datum":0},"y":{"datum":70}}}
]},
{"width":410,"height":278,"layer":[
{"data":{"values":[
{"group":"INF Rag1-/- + isotype","day":0,"survival":100},{"group":"INF Rag1-/- + isotype","day":1,"survival":100},{"group":"INF Rag1-/- + isotype","day":2,"survival":100},{"group":"INF Rag1-/- + isotype","day":3,"survival":100},{"group":"INF Rag1-/- + isotype","day":4,"survival":100},{"group":"INF Rag1-/- + isotype","day":5,"survival":100},{"group":"INF Rag1-/- + isotype","day":6,"survival":100},{"group":"INF Rag1-/- + isotype","day":7,"survival":100},{"group":"INF Rag1-/- + isotype","day":8,"survival":100},{"group":"INF Rag1-/- + isotype","day":9,"survival":100},{"group":"INF Rag1-/- + isotype","day":10,"survival":100},{"group":"INF Rag1-/- + isotype","day":11,"survival":100},{"group":"INF Rag1-/- + isotype","day":12,"survival":100},{"group":"INF Rag1-/- + isotype","day":13,"survival":100},{"group":"INF Rag1-/- + isotype","day":14,"survival":100},{"group":"INF Rag1-/- + isotype","day":15,"survival":75},{"group":"INF Rag1-/- + isotype","day":16,"survival":75},{"group":"INF Rag1-/- + isotype","day":17,"survival":50},{"group":"INF Rag1-/- + isotype","day":18,"survival":25},{"group":"INF Rag1-/- + isotype","day":19,"survival":0},
{"group":"INF Rag1-/- + anti-CD90","day":0,"survival":100},{"group":"INF Rag1-/- + anti-CD90","day":1,"survival":100},{"group":"INF Rag1-/- + anti-CD90","day":2,"survival":100},{"group":"INF Rag1-/- + anti-CD90","day":3,"survival":100},{"group":"INF Rag1-/- + anti-CD90","day":4,"survival":100},{"group":"INF Rag1-/- + anti-CD90","day":5,"survival":100},{"group":"INF Rag1-/- + anti-CD90","day":6,"survival":100},{"group":"INF Rag1-/- + anti-CD90","day":7,"survival":100},{"group":"INF Rag1-/- + anti-CD90","day":8,"survival":100},{"group":"INF Rag1-/- + anti-CD90","day":9,"survival":100},{"group":"INF Rag1-/- + anti-CD90","day":10,"survival":75},{"group":"INF Rag1-/- + anti-CD90","day":11,"survival":50},{"group":"INF Rag1-/- + anti-CD90","day":12,"survival":0}]},"layer":[
{"mark":{"type":"line","interpolate":"step-after","strokeWidth":2.5},"encoding":{"x":{"field":"day","type":"quantitative","scale":{"domain":[0,20],"range":[58.3,397],"padding":0},"axis":{"values":[0,10,20],"title":"Time post infection (days)","titleX":236,"titleY":35.7,"titleBaseline":"alphabetic","offset":-45.7}},"y":{"field":"survival","type":"quantitative","scale":{"domain":[0,105],"range":[232.3,34.9],"padding":0},"axis":{"values":[0,50,100],"title":"Percent survival (%)","titleX":-29.3,"titleY":137,"offset":-58.3}},"color":{"field":"group","scale":{"domain":["INF Rag1-/- + isotype","INF Rag1-/- + anti-CD90"],"range":["black","#666666"]},"legend":null}}},
{"transform":[{"filter":"datum.group=='INF Rag1-/- + isotype'"}],"mark":{"type":"point","filled":true,"opacity":1,"shape":"square","size":130},"encoding":{"x":{"field":"day","type":"quantitative"},"y":{"field":"survival","type":"quantitative"},"color":{"field":"group","legend":null}}},
{"transform":[{"filter":"datum.group=='INF Rag1-/- + anti-CD90' && datum.survival>0"}],"mark":{"type":"point","filled":true,"opacity":1,"shape":"triangle-up","size":170},"encoding":{"x":{"field":"day","type":"quantitative"},"y":{"field":"survival","type":"quantitative"},"color":{"field":"group","legend":null}}}]},
{"mark":{"type":"text","text":"***","align":"center","dy":10,"fontSize":18},"encoding":{"x":{"datum":17.76},"y":{"datum":6.5}}},
{"mark":{"type":"text","text":"J.","align":"left","dx":-53.3,"dy":-209.3,"fontSize":18},"encoding":{"x":{"datum":0},"y":{"datum":0}}},
{"mark":{"type":"rule","stroke":"black","strokeWidth":2.5},"encoding":{"x":{"datum":0.45},"x2":{"datum":1.75},"y":{"datum":20.9}}},
{"mark":{"type":"point","shape":"square","filled":true,"size":130,"color":"black","opacity":1},"encoding":{"x":{"datum":1.1},"y":{"datum":20.9}}},
{"mark":{"type":"rule","stroke":"#666666","strokeWidth":2.5},"encoding":{"x":{"datum":0.45},"x2":{"datum":1.75},"y":{"datum":8.8}}},
{"mark":{"type":"point","shape":"triangle-up","filled":true,"size":170,"color":"#666666","opacity":1},"encoding":{"x":{"datum":1.1},"y":{"datum":8.8}}},
{"mark":{"type":"text","text":"INF","align":"left","dx":34.4,"dy":-35.3},"encoding":{"x":{"datum":0},"y":{"datum":0}}},
{"mark":{"type":"text","text":"Rag1","align":"left","dx":63.7,"dy":-35.3,"fontStyle":"italic"},"encoding":{"x":{"datum":0},"y":{"datum":0}}},
{"mark":{"type":"text","text":"-/-","align":"left","dx":99.7,"dy":-41.3,"fontSize":9,"fontStyle":"italic"},"encoding":{"x":{"datum":0},"y":{"datum":0}}},
{"mark":{"type":"text","text":"+ isotype","align":"left","dx":114.4,"dy":-35.3},"encoding":{"x":{"datum":0},"y":{"datum":0}}},
{"mark":{"type":"text","text":"INF","align":"left","dx":34.4,"dy":-11.6},"encoding":{"x":{"datum":0},"y":{"datum":0}}},
{"mark":{"type":"text","text":"Rag1","align":"left","dx":63.7,"dy":-11.6,"fontStyle":"italic"},"encoding":{"x":{"datum":0},"y":{"datum":0}}},
{"mark":{"type":"text","text":"-/-","align":"left","dx":99.7,"dy":-17.6,"fontSize":9,"fontStyle":"italic"},"encoding":{"x":{"datum":0},"y":{"datum":0}}},
{"mark":{"type":"text","text":"+ anti-CD90","align":"left","dx":114.4,"dy":-11.6},"encoding":{"x":{"datum":0},"y":{"datum":0}}}
]}
],"spacing":0,"bounds":"flush","resolve":{"scale":{"fill":"independent"}}}
]}
